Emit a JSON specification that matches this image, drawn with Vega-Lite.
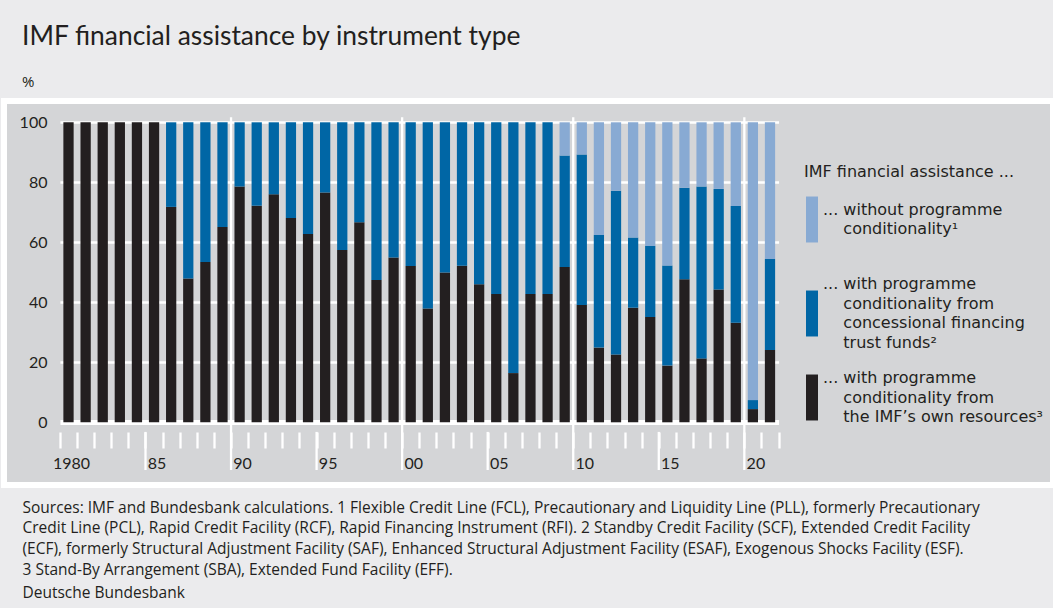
{
  "$schema": "https://vega.github.io/schema/vega-lite/v6.json",
  "width": 1049,
  "height": 384,
  "autosize": {"type": "none"},
  "padding": {"left": 4, "top": 101, "right": 0, "bottom": 123},
  "background": "#ebebed",
  "view": {"fill": "#d4d5d7", "stroke": "#ffffff", "strokeWidth": 6},
  "title": {
    "text": "IMF financial assistance by instrument type",
    "subtitle": "%",
    "anchor": "start",
    "frame": "group",
    "dx": 18,
    "offset": 11,
    "font": "Lato",
    "fontSize": 26.4,
    "fontWeight": "normal",
    "color": "#231f20",
    "subtitleFont": "Open Sans",
    "subtitleFontSize": 15,
    "subtitleColor": "#231f20",
    "subtitlePadding": 25
  },
  "data": {
    "values": [
      {"year": 1980, "type": "3 own", "share": 100}, {"year": 1980, "type": "2 concessional", "share": 0}, {"year": 1980, "type": "1 without", "share": 0},
      {"year": 1981, "type": "3 own", "share": 100}, {"year": 1981, "type": "2 concessional", "share": 0}, {"year": 1981, "type": "1 without", "share": 0},
      {"year": 1982, "type": "3 own", "share": 100}, {"year": 1982, "type": "2 concessional", "share": 0}, {"year": 1982, "type": "1 without", "share": 0},
      {"year": 1983, "type": "3 own", "share": 100}, {"year": 1983, "type": "2 concessional", "share": 0}, {"year": 1983, "type": "1 without", "share": 0},
      {"year": 1984, "type": "3 own", "share": 100}, {"year": 1984, "type": "2 concessional", "share": 0}, {"year": 1984, "type": "1 without", "share": 0},
      {"year": 1985, "type": "3 own", "share": 100}, {"year": 1985, "type": "2 concessional", "share": 0}, {"year": 1985, "type": "1 without", "share": 0},
      {"year": 1986, "type": "3 own", "share": 71.8}, {"year": 1986, "type": "2 concessional", "share": 28.2}, {"year": 1986, "type": "1 without", "share": 0},
      {"year": 1987, "type": "3 own", "share": 47.9}, {"year": 1987, "type": "2 concessional", "share": 52.1}, {"year": 1987, "type": "1 without", "share": 0},
      {"year": 1988, "type": "3 own", "share": 53.4}, {"year": 1988, "type": "2 concessional", "share": 46.6}, {"year": 1988, "type": "1 without", "share": 0},
      {"year": 1989, "type": "3 own", "share": 65.1}, {"year": 1989, "type": "2 concessional", "share": 34.9}, {"year": 1989, "type": "1 without", "share": 0},
      {"year": 1990, "type": "3 own", "share": 78.6}, {"year": 1990, "type": "2 concessional", "share": 21.4}, {"year": 1990, "type": "1 without", "share": 0},
      {"year": 1991, "type": "3 own", "share": 72.2}, {"year": 1991, "type": "2 concessional", "share": 27.8}, {"year": 1991, "type": "1 without", "share": 0},
      {"year": 1992, "type": "3 own", "share": 76.0}, {"year": 1992, "type": "2 concessional", "share": 24.0}, {"year": 1992, "type": "1 without", "share": 0},
      {"year": 1993, "type": "3 own", "share": 68.1}, {"year": 1993, "type": "2 concessional", "share": 31.9}, {"year": 1993, "type": "1 without", "share": 0},
      {"year": 1994, "type": "3 own", "share": 62.8}, {"year": 1994, "type": "2 concessional", "share": 37.2}, {"year": 1994, "type": "1 without", "share": 0},
      {"year": 1995, "type": "3 own", "share": 76.6}, {"year": 1995, "type": "2 concessional", "share": 23.4}, {"year": 1995, "type": "1 without", "share": 0},
      {"year": 1996, "type": "3 own", "share": 57.4}, {"year": 1996, "type": "2 concessional", "share": 42.6}, {"year": 1996, "type": "1 without", "share": 0},
      {"year": 1997, "type": "3 own", "share": 66.7}, {"year": 1997, "type": "2 concessional", "share": 33.3}, {"year": 1997, "type": "1 without", "share": 0},
      {"year": 1998, "type": "3 own", "share": 47.4}, {"year": 1998, "type": "2 concessional", "share": 52.6}, {"year": 1998, "type": "1 without", "share": 0},
      {"year": 1999, "type": "3 own", "share": 54.9}, {"year": 1999, "type": "2 concessional", "share": 45.1}, {"year": 1999, "type": "1 without", "share": 0},
      {"year": 2000, "type": "3 own", "share": 52.1}, {"year": 2000, "type": "2 concessional", "share": 47.9}, {"year": 2000, "type": "1 without", "share": 0},
      {"year": 2001, "type": "3 own", "share": 37.9}, {"year": 2001, "type": "2 concessional", "share": 62.1}, {"year": 2001, "type": "1 without", "share": 0},
      {"year": 2002, "type": "3 own", "share": 49.9}, {"year": 2002, "type": "2 concessional", "share": 50.1}, {"year": 2002, "type": "1 without", "share": 0},
      {"year": 2003, "type": "3 own", "share": 52.2}, {"year": 2003, "type": "2 concessional", "share": 47.8}, {"year": 2003, "type": "1 without", "share": 0},
      {"year": 2004, "type": "3 own", "share": 46.0}, {"year": 2004, "type": "2 concessional", "share": 54.0}, {"year": 2004, "type": "1 without", "share": 0},
      {"year": 2005, "type": "3 own", "share": 42.8}, {"year": 2005, "type": "2 concessional", "share": 57.2}, {"year": 2005, "type": "1 without", "share": 0},
      {"year": 2006, "type": "3 own", "share": 16.4}, {"year": 2006, "type": "2 concessional", "share": 83.6}, {"year": 2006, "type": "1 without", "share": 0},
      {"year": 2007, "type": "3 own", "share": 42.8}, {"year": 2007, "type": "2 concessional", "share": 57.2}, {"year": 2007, "type": "1 without", "share": 0},
      {"year": 2008, "type": "3 own", "share": 42.8}, {"year": 2008, "type": "2 concessional", "share": 57.2}, {"year": 2008, "type": "1 without", "share": 0},
      {"year": 2009, "type": "3 own", "share": 51.8}, {"year": 2009, "type": "2 concessional", "share": 37.1}, {"year": 2009, "type": "1 without", "share": 11.1},
      {"year": 2010, "type": "3 own", "share": 39.1}, {"year": 2010, "type": "2 concessional", "share": 50.2}, {"year": 2010, "type": "1 without", "share": 10.7},
      {"year": 2011, "type": "3 own", "share": 24.9}, {"year": 2011, "type": "2 concessional", "share": 37.5}, {"year": 2011, "type": "1 without", "share": 37.6},
      {"year": 2012, "type": "3 own", "share": 22.6}, {"year": 2012, "type": "2 concessional", "share": 54.6}, {"year": 2012, "type": "1 without", "share": 22.8},
      {"year": 2013, "type": "3 own", "share": 38.2}, {"year": 2013, "type": "2 concessional", "share": 23.4}, {"year": 2013, "type": "1 without", "share": 38.4},
      {"year": 2014, "type": "3 own", "share": 35.1}, {"year": 2014, "type": "2 concessional", "share": 23.7}, {"year": 2014, "type": "1 without", "share": 41.2},
      {"year": 2015, "type": "3 own", "share": 18.9}, {"year": 2015, "type": "2 concessional", "share": 33.4}, {"year": 2015, "type": "1 without", "share": 47.7},
      {"year": 2016, "type": "3 own", "share": 47.7}, {"year": 2016, "type": "2 concessional", "share": 30.5}, {"year": 2016, "type": "1 without", "share": 21.8},
      {"year": 2017, "type": "3 own", "share": 21.3}, {"year": 2017, "type": "2 concessional", "share": 57.3}, {"year": 2017, "type": "1 without", "share": 21.4},
      {"year": 2018, "type": "3 own", "share": 44.3}, {"year": 2018, "type": "2 concessional", "share": 33.5}, {"year": 2018, "type": "1 without", "share": 22.2},
      {"year": 2019, "type": "3 own", "share": 33.2}, {"year": 2019, "type": "2 concessional", "share": 38.9}, {"year": 2019, "type": "1 without", "share": 27.9},
      {"year": 2020, "type": "3 own", "share": 4.4}, {"year": 2020, "type": "2 concessional", "share": 3.0}, {"year": 2020, "type": "1 without", "share": 92.6},
      {"year": 2021, "type": "3 own", "share": 24.1}, {"year": 2021, "type": "2 concessional", "share": 30.3}, {"year": 2021, "type": "1 without", "share": 45.6}
    ]
  },
  "layer": [
    {
      "mark": {"type": "bar", "width": {"band": 0.6}},
      "encoding": {
        "x": {
          "field": "year",
          "type": "ordinal",
          "scale": {"range": [55.95, 774.55], "paddingInner": 0, "paddingOuter": 0},
          "axis": {
            "orient": "bottom",
            "offset": -53,
            "tickBand": "extent",
            "ticks": true,
            "tickSize": 16,
            "tickColor": "#ffffff",
            "tickWidth": 2.3,
            "domain": false,
            "grid": false,
            "labelAngle": 0,
            "labelOverlap": false,
            "labelExpr": "datum.value % 5 === 0 ? (datum.value === 1980 ? '1980' : slice(toString(datum.value), 2)) : ''",
            "labelFont": "Lato",
            "labelFontSize": 16,
            "labelColor": "#231f20",
            "labelPadding": 7,
            "labelOffset": 2.5,
            "title": [
              "Sources: IMF and Bundesbank calculations. 1 Flexible Credit Line (FCL), Precautionary and Liquidity Line (PLL), formerly Precautionary",
              "Credit Line (PCL), Rapid Credit Facility (RCF), Rapid Financing Instrument (RFI). 2 Standby Credit Facility (SCF), Extended Credit Facility",
              "(ECF), formerly Structural Adjustment Facility (SAF), Enhanced Structural Adjustment Facility (ESAF), Exogenous Shocks Facility (ESF).",
              "3 Stand-By Arrangement (SBA), Extended Fund Facility (EFF)."
            ],
            "titleFont": "Open Sans",
            "titleFontSize": 15.5,
            "titleFontWeight": "normal",
            "titleColor": "#231f20",
            "titleAnchor": "start",
            "titleAlign": "left",
            "titleBaseline": "alphabetic",
            "titleAngle": 0,
            "titleX": 18,
            "titleY": 80,
            "titleLineHeight": 20.7
          }
        },
        "y": {
          "field": "share",
          "type": "quantitative",
          "stack": "zero",
          "scale": {"domain": [0, 100], "range": [321.3, 21.3], "nice": false, "zero": true},
          "axis": {
            "orient": "left",
            "offset": -55.95,
            "values": [0, 20, 40, 60, 80, 100],
            "grid": true,
            "gridColor": "#ffffff",
            "gridWidth": {"condition": {"test": "datum.value === 0", "value": 5}, "value": 2.5},
            "gridOpacity": 1,
            "domain": false,
            "ticks": false,
            "tickSize": 0,
            "labelFont": "Lato",
            "labelFontSize": 16,
            "labelColor": "#231f20",
            "labelPadding": 13,
            "title": "Deutsche Bundesbank",
            "titleAngle": 0,
            "titleFont": "Open Sans",
            "titleFontSize": 15.5,
            "titleFontWeight": "normal",
            "titleColor": "#231f20",
            "titleAlign": "left",
            "titleBaseline": "alphabetic",
            "titleAnchor": "start",
            "titleX": -38,
            "titleY": 496
          }
        },
        "color": {
          "field": "type",
          "type": "nominal",
          "scale": {
            "domain": ["1 without", "2 concessional", "3 own"],
            "range": ["#88aad3", "#0066a5", "#231f20"]
          },
          "legend": {
            "orient": "none",
            "legendX": 800,
            "legendY": 63,
            "padding": 0,
            "title": "IMF financial assistance ...",
            "titleFont": "DejaVu Sans",
            "titleFontSize": 16,
            "titleFontWeight": "normal",
            "titleColor": "#231f20",
            "titleLimit": 400,
            "titlePadding": 31.5,
            "labelFont": "DejaVu Sans",
            "labelFontSize": 16,
            "labelColor": "#231f20",
            "labelOffset": 3,
            "labelLimit": 300,
            "symbolType": "M-1,-3.83H1V3.83H-1Z",
            "symbolSize": 144,
            "symbolStrokeWidth": 0,
            "symbolOpacity": 1,
            "rowPadding": 18,
            "labelExpr": "datum.value === '1 without' ? ['', '... without programme', '\u200b\u00a0\u00a0\u00a0\u00a0conditionality¹', ''] : datum.value === '2 concessional' ? ['... with programme', '\u200b\u00a0\u00a0\u00a0\u00a0conditionality from', '\u200b\u00a0\u00a0\u00a0\u00a0concessional financing', '\u200b\u00a0\u00a0\u00a0\u00a0trust funds²'] : ['... with programme', '\u200b\u00a0\u00a0\u00a0\u00a0conditionality from', '\u200b\u00a0\u00a0\u00a0\u00a0the IMF’s own resources³']",
            "encode": {
              "labels": {
                "update": {
                  "lineHeight": {"value": 19.5},
                  "dy": {"signal": "datum.value === '3 own' ? -19.5 : -29.25"}
                }
              }
            }
          }
        }
      }
    },
    {
      "transform": [{"filter": "datum.type === '3 own' && (datum.year === 1990 || datum.year === 2000 || datum.year === 2010 || datum.year === 2020)"}],
      "mark": {"type": "rule", "color": "#ffffff", "strokeWidth": 2.3},
      "encoding": {
        "x": {"field": "year", "type": "ordinal", "bandPosition": 0},
        "y": {"datum": 101.7},
        "y2": {"datum": -15.9}
      }
    },
    {
      "transform": [{"filter": "datum.type === '3 own' && (datum.year === 1985 || datum.year === 1995 || datum.year === 2005 || datum.year === 2015)"}],
      "mark": {"type": "rule", "color": "#ffffff", "strokeWidth": 2.3},
      "encoding": {
        "x": {"field": "year", "type": "ordinal", "bandPosition": 0},
        "y": {"datum": -3.2},
        "y2": {"datum": -15.9}
      }
    }
  ]
}
